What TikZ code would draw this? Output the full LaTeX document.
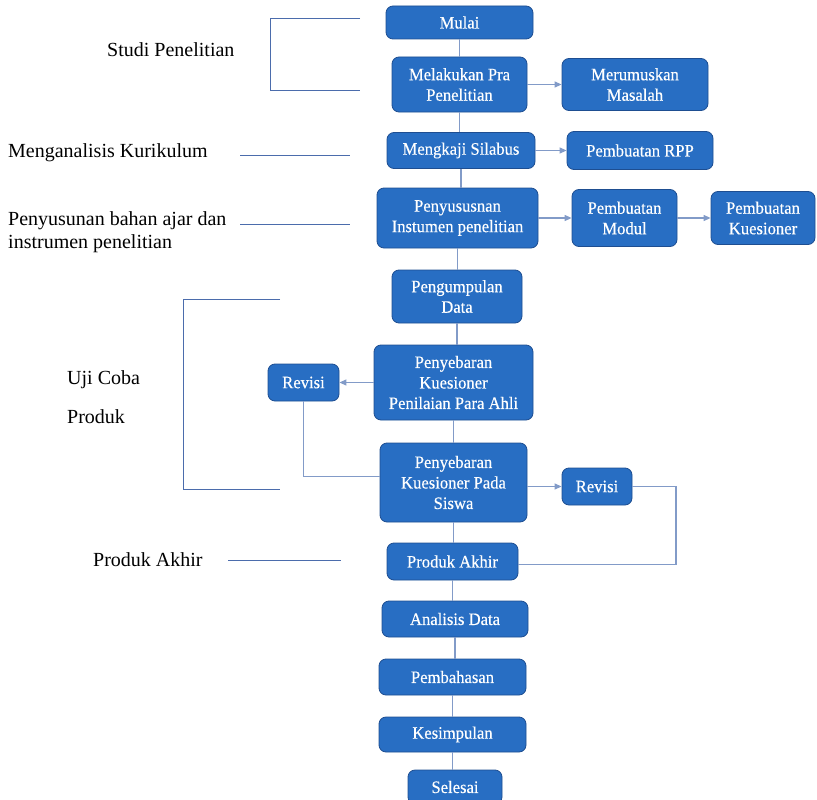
\documentclass[tikz,border=0pt]{standalone}
\usepackage{fontspec}
\setmainfont{Liberation Serif}
\newfontfamily\boxfont{Liberation Serif}[FakeStretch=0.95,FakeBold=0.3]
\usetikzlibrary{arrows.meta}
\definecolor{boxfill}{RGB}{40,110,195}
\definecolor{boxline}{RGB}{30,78,145}
\definecolor{conn}{RGB}{130,155,200}
\definecolor{brk}{RGB}{75,108,172}
\begin{document}
\begin{tikzpicture}[x=1pt,y=-1pt,
  box/.style={draw=boxline, fill=boxfill, rounded corners=7pt, text=white,
    font=\boxfont\fontsize{17.5}{20.5}\selectfont, align=center, inner sep=2pt, line width=0.8pt},
  conline/.style={draw=conn, line width=1.2pt},
  arr/.style={conline, -{Triangle[length=7pt,width=6pt]}},
  brline/.style={draw=brk, line width=1pt},
  lbl/.style={font=\fontsize{20}{23}\selectfont, anchor=west, align=left, inner sep=0pt}]
\useasboundingbox (0,0) rectangle (817,800);

% main column
\node[box, minimum width=147pt, minimum height=33pt] (mulai) at (459.5,22.5) {Mulai};
\node[box, minimum width=135pt, minimum height=55pt] (pra) at (459.5,84.5) {Melakukan Pra\\Penelitian};
\node[box, minimum width=146pt, minimum height=52pt] (rumus) at (635,84.5) {Merumuskan\\Masalah};
\node[box, minimum width=148pt, minimum height=36pt] (silabus) at (461,150.5) {Mengkaji Silabus};
\node[box, minimum width=146pt, minimum height=38pt] (rpp) at (640,150.5) {Pembuatan RPP};
\node[box, minimum width=161pt, minimum height=60pt] (susun) at (457.5,218) {Penyususnan\\Instumen penelitian};
\node[box, minimum width=105pt, minimum height=57pt] (modul) at (624.5,218) {Pembuatan\\Modul};
\node[box, minimum width=104pt, minimum height=53pt] (kues) at (763,218) {Pembuatan\\Kuesioner};
\node[box, minimum width=130pt, minimum height=53pt] (kumpul) at (457,296.5) {Pengumpulan\\Data};
\node[box, minimum width=159pt, minimum height=75pt] (ahli) at (453.5,382.5) {Penyebaran\\Kuesioner\\Penilaian Para Ahli};
\node[box, minimum width=71pt, minimum height=37pt] (revL) at (303.5,382.5) {Revisi};
\node[box, minimum width=147pt, minimum height=79pt] (siswa) at (453.5,482.5) {Penyebaran\\Kuesioner Pada\\Siswa};
\node[box, minimum width=70pt, minimum height=37pt] (revR) at (597,486.5) {Revisi};
\node[box, minimum width=131pt, minimum height=37pt] (produk) at (452.5,561.5) {Produk Akhir};
\node[box, minimum width=146pt, minimum height=36pt] (analisis) at (455,619) {Analisis Data};
\node[box, minimum width=147pt, minimum height=36pt] (bahas) at (452.5,677) {Pembahasan};
\node[box, minimum width=147pt, minimum height=35pt] (simpul) at (452.5,734.5) {Kesimpulan};
\node[box, minimum width=94pt, minimum height=34pt] (selesai) at (455,787) {Selesai};

% spine
\foreach \a/\b in {mulai/pra, pra/silabus, silabus/susun, susun/kumpul, kumpul/ahli, ahli/siswa, siswa/produk, produk/analisis, analisis/bahas, bahas/simpul, simpul/selesai}
  \draw[conline] (\a.south) -- (\a.south |- \b.north);

% side arrows
\draw[arr] (pra.east) -- (pra.east -| rumus.west);
\draw[arr] (silabus.east) -- (silabus.east -| rpp.west);
\draw[arr] (susun.east) -- (susun.east -| modul.west);
\draw[arr] (modul.east) -- (modul.east -| kues.west);
\draw[arr] (ahli.west) -- (ahli.west -| revL.east);
\draw[arr] (siswa.east |- revR.west) -- (revR.west);
\draw[conline] (revL.south) |- ([yshift=6pt]siswa.west);
\coordinate (rr) at (676,486.5);
\draw[conline] (revR.east) -- (rr) |- ([yshift=-3pt]produk.east);

% left labels
\node[lbl] (studi) at (107,50) {Studi Penelitian};
\coordinate (b1a) at (360,19); \coordinate (b1b) at (270,19);
\coordinate (b1c) at (270,91); \coordinate (b1d) at (360,91);
\draw[brline] (b1a) -- (b1b) -- (b1c) -- (b1d);

\node[lbl] (kurik) at (8,153) {Menganalisis Kurikulum};
\coordinate (k1) at (240,155); \coordinate (k2) at (350,155);
\draw[brline] (k1) -- (k2);

\node[lbl, anchor=north west] (bahan) at (8,211) {Penyusunan bahan ajar dan\\instrumen penelitian};
\coordinate (p1) at (240,224); \coordinate (p2) at (350,224);
\draw[brline] (p1) -- (p2);

\node[lbl] (uji) at (67,380) {Uji Coba};
\node[lbl] (prod) at (67,417) {Produk};
\coordinate (u1) at (280,299); \coordinate (u2) at (183,299);
\coordinate (u3) at (183,489); \coordinate (u4) at (280,489);
\draw[brline] (u1) -- (u2) -- (u3) -- (u4);

\node[lbl] (akhir) at (93,560) {Produk Akhir};
\coordinate (a1) at (228,560); \coordinate (a2) at (341,560);
\draw[brline] (a1) -- (a2);
\end{tikzpicture}
\end{document}
